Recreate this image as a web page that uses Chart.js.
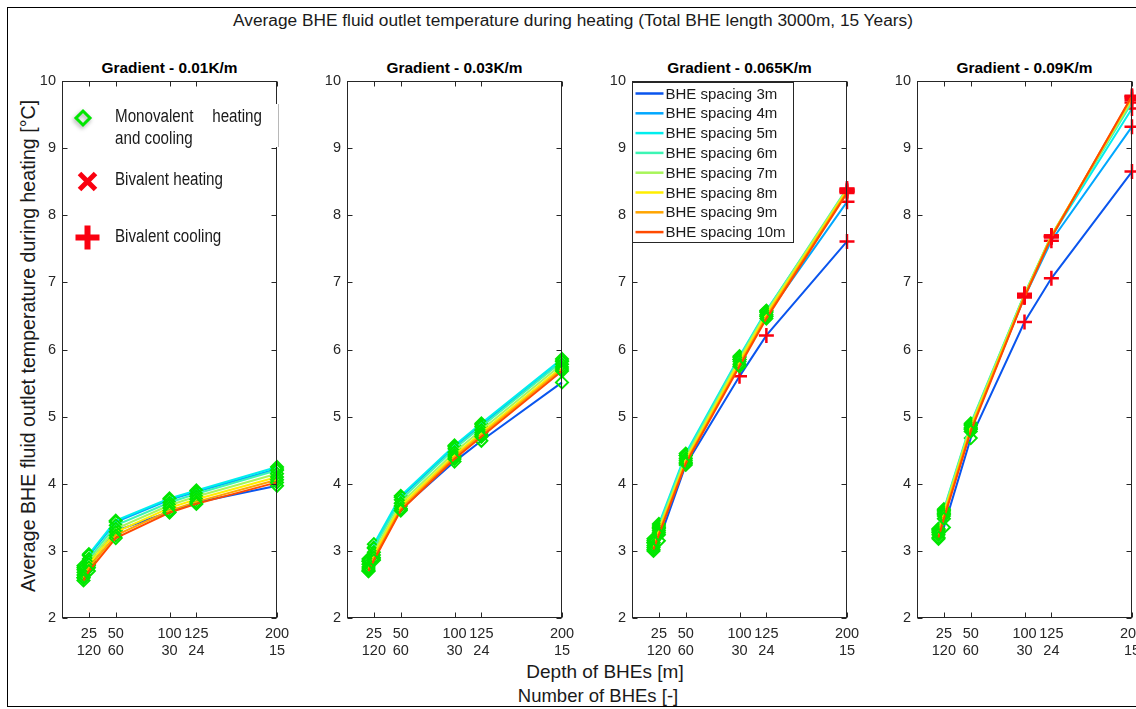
<!DOCTYPE html>
<html>
<head>
<meta charset="utf-8">
<script src="https://cdn.jsdelivr.net/npm/chart.js@4.4.1/dist/chart.umd.min.js"></script>
<style>
  html, body { margin: 0; padding: 0; background: #fff; overflow: hidden; width: 1136px; height: 709px; }
  body { position: relative; font-family: "Liberation Sans", Arial, sans-serif; color: #1a1a1a; }
  .frame { position: absolute; left: 7px; top: 7px; width: 1150px; height: 700px; box-sizing: border-box; border: 1px solid #000; }
  .lbl { position: absolute; white-space: nowrap; transform: translate(-50%, -50%); }
  .sub { font-weight: bold; font-size: 15.4px; color: #000; }
  canvas { position: absolute; }
</style>
</head>
<body>
<div class="frame"></div>
<div class="lbl" style="left:573px; top:20px; font-size:17.3px;">Average BHE fluid outlet temperature during heating (Total BHE length 3000m, 15 Years)</div>
<div class="lbl" style="left:28px; top:346px; font-size:19.6px; transform: translate(-50%, -50%) rotate(-90deg);">Average BHE fluid outlet temperature during heating [°C]</div>
<div class="lbl" style="left:605px; top:672px; font-size:19px;">Depth of BHEs [m]</div>
<div class="lbl" style="left:598px; top:696px; font-size:18.5px;">Number of BHEs [-]</div>
<div id="titles"></div>
<canvas id="c0" width="290" height="607"></canvas>
<canvas id="c1" width="290" height="607"></canvas>
<canvas id="c2" width="290" height="607"></canvas>
<canvas id="c3" width="290" height="607"></canvas>
<script>
// ---- data ----
const depths = [20, 25, 50, 100, 125, 200];          // BHE depth [m] of each simulated layout
const depthTicks = [25, 50, 100, 125, 200];
const countTicks = [120, 60, 30, 24, 15];             // number of BHEs for each labelled depth
const spacingLabels = ['BHE spacing 3m', 'BHE spacing 4m', 'BHE spacing 5m', 'BHE spacing 6m',
                       'BHE spacing 7m', 'BHE spacing 8m', 'BHE spacing 9m', 'BHE spacing 10m'];
const gradientTitles = ['Gradient - 0.01K/m', 'Gradient - 0.03K/m', 'Gradient - 0.065K/m', 'Gradient - 0.09K/m'];

// mean fluid outlet temperature [°C], one row per BHE spacing (3m ... 10m)
const temps001 = [
  [2.60, 2.78, 3.30, 3.58, 3.72, 3.97],
  [2.75, 2.93, 3.43, 3.76, 3.88, 4.22],
  [2.78, 2.95, 3.45, 3.78, 3.90, 4.25],
  [2.72, 2.88, 3.38, 3.72, 3.85, 4.20],
  [2.68, 2.84, 3.33, 3.68, 3.81, 4.15],
  [2.64, 2.80, 3.28, 3.64, 3.77, 4.10],
  [2.60, 2.75, 3.23, 3.60, 3.73, 4.06],
  [2.56, 2.70, 3.19, 3.57, 3.70, 4.02]
];
const temps003 = [
  [2.70, 2.88, 3.62, 4.33, 4.64, 5.51],
  [2.85, 3.05, 3.80, 4.55, 4.88, 5.83],
  [2.88, 3.10, 3.82, 4.57, 4.90, 5.86],
  [2.84, 3.04, 3.76, 4.52, 4.85, 5.82],
  [2.80, 2.98, 3.71, 4.47, 4.80, 5.78],
  [2.76, 2.94, 3.67, 4.43, 4.76, 5.74],
  [2.73, 2.90, 3.63, 4.40, 4.73, 5.71],
  [2.70, 2.86, 3.60, 4.37, 4.70, 5.68]
];
const temps0065 = [
  [3.00, 3.15, 4.28, 5.60, 6.21, 7.61],
  [3.12, 3.35, 4.42, 5.85, 6.50, 8.20],
  [3.18, 3.40, 4.45, 5.90, 6.58, 8.36],
  [3.15, 3.37, 4.42, 5.88, 6.57, 8.40],
  [3.12, 3.33, 4.38, 5.85, 6.55, 8.39],
  [3.08, 3.30, 4.35, 5.82, 6.52, 8.37],
  [3.05, 3.27, 4.32, 5.78, 6.49, 8.35],
  [3.02, 3.24, 4.30, 5.75, 6.46, 8.33]
];
const temps009 = [
  [3.18, 3.35, 4.68, 6.41, 7.06, 8.65],
  [3.28, 3.55, 4.82, 6.78, 7.62, 9.32],
  [3.32, 3.60, 4.88, 6.82, 7.68, 9.59],
  [3.33, 3.62, 4.90, 6.83, 7.70, 9.68],
  [3.30, 3.58, 4.87, 6.82, 7.70, 9.72],
  [3.27, 3.55, 4.84, 6.80, 7.69, 9.75],
  [3.24, 3.52, 4.81, 6.79, 7.68, 9.77],
  [3.20, 3.48, 4.78, 6.78, 7.67, 9.78]
];

// operating mode per point: d = monovalent heating and cooling, + = bivalent cooling, x = bivalent heating
const modes001  = ['dddddd', 'dddddd', 'dddddd', 'dddddd', 'dddddd', 'dddddd', 'dddddd', 'dddddd'];
const modes003  = ['dddddd', 'dddddd', 'dddddd', 'dddddd', 'dddddd', 'dddddd', 'dddddd', 'dddddd'];
const modes0065 = ['ddd+++', 'ddddd+', 'ddddd+', 'ddddd+', 'ddddd+', 'ddddd+', 'ddddd+', 'ddddd+'];
const modes009  = ['ddd+++', 'ddd+++', 'ddd+++', 'ddd+++', 'ddd+++', 'ddd+++', 'ddd+++', 'ddd+++'];

// ---- styling ----
const lineColors = ['#0a55ee', '#00a8ff', '#00eeee', '#3cf5b4', '#a8f55a', '#ffee00', '#ffa500', '#ff4a00'];
const axisColor = '#262626';
const markRed = '#fa0010';
const font = '"Liberation Sans", Arial, sans-serif';
const markerStyle = {
  d: { style: 'rectRot', color: '#00e600', radius: 6, width: 2 },
  '+': { style: 'cross', color: markRed, radius: 7.5, width: 2.5 },
  x: { style: 'crossRot', color: markRed, radius: 7.5, width: 2.5 }
};
const plotLefts = [62, 347, 632, 917];
const plotTop = 81;

// axes box with inward ticks on all four sides
const frameTicks = {
  id: 'frameTicks',
  afterDraw(chart) {
    const { ctx, chartArea: a, scales: { x, y } } = chart;
    const L = Math.round(a.left) + 0.5, R = Math.round(a.right) - 0.5;
    const T = Math.round(a.top) + 0.5, B = Math.round(a.bottom) - 0.5;
    ctx.save();
    ctx.strokeStyle = axisColor;
    ctx.lineWidth = 1;
    ctx.strokeRect(L, T, R - L, B - T);
    ctx.beginPath();
    x.ticks.forEach(t => {
      const px = Math.round(x.getPixelForValue(t.value)) + 0.5;
      ctx.moveTo(px, B); ctx.lineTo(px, B - 5);
      ctx.moveTo(px, T); ctx.lineTo(px, T + 5);
    });
    y.ticks.forEach(t => {
      const py = Math.round(y.getPixelForValue(t.value)) + 0.5;
      ctx.moveTo(L, py); ctx.lineTo(L + 5, py);
      ctx.moveTo(R, py); ctx.lineTo(R - 5, py);
    });
    ctx.stroke();
    ctx.restore();
  }
};

// legend of the spacing lines
const lineKey = {
  id: 'lineKey',
  afterDraw(chart) {
    const { ctx, chartArea: a } = chart;
    const x0 = Math.round(a.left) + 0.5, y0 = Math.round(a.top) + 1.5;
    ctx.save();
    ctx.fillStyle = '#fff';
    ctx.fillRect(x0, y0, 161, 160);
    ctx.strokeStyle = axisColor;
    ctx.lineWidth = 1;
    ctx.strokeRect(x0, y0, 161, 160);
    ctx.font = '15px ' + font;
    ctx.textBaseline = 'middle';
    chart.data.datasets.forEach((ds, i) => {
      const cy = y0 + 11 + i * 19.8;
      ctx.strokeStyle = ds.borderColor;
      ctx.lineWidth = 2.5;
      ctx.beginPath(); ctx.moveTo(x0 + 3, cy); ctx.lineTo(x0 + 31, cy); ctx.stroke();
      ctx.fillStyle = '#1a1a1a';
      ctx.fillText(ds.label, x0 + 33, cy + 1);
    });
    ctx.restore();
  }
};

// legend of the operating-mode markers
const modeKey = {
  id: 'modeKey',
  afterDraw(chart) {
    const { ctx, chartArea: a } = chart;
    const ax = a.left, ay = a.top;
    ctx.save();
    ctx.fillStyle = '#fff';
    ctx.fillRect(ax + 2, ay + 23, 214.5, 43);
    ctx.strokeStyle = '#b8b8b8';
    ctx.lineWidth = 1;
    ctx.beginPath(); ctx.moveTo(ax + 216.5, ay + 23); ctx.lineTo(ax + 216.5, ay + 66); ctx.stroke();

    // hollow green diamond with soft shadow
    ctx.save();
    ctx.shadowColor = 'rgba(0,0,0,0.35)';
    ctx.shadowBlur = 4;
    ctx.shadowOffsetX = -1;
    ctx.shadowOffsetY = 2;
    ctx.strokeStyle = '#00e600';
    ctx.lineWidth = 3;
    const dx = ax + 21, dy = ay + 37;
    ctx.beginPath();
    ctx.moveTo(dx, dy - 7); ctx.lineTo(dx + 7, dy); ctx.lineTo(dx, dy + 7); ctx.lineTo(dx - 7, dy); ctx.closePath();
    ctx.stroke();
    ctx.restore();

    // red X
    ctx.strokeStyle = markRed;
    ctx.lineWidth = 5;
    const xx = ax + 25.5, xy = ay + 100.5;
    ctx.beginPath();
    ctx.moveTo(xx - 8, xy - 8); ctx.lineTo(xx + 8, xy + 8);
    ctx.moveTo(xx + 8, xy - 8); ctx.lineTo(xx - 8, xy + 8);
    ctx.stroke();

    // red plus
    ctx.lineWidth = 6;
    const px = ax + 25.5, py = ay + 156.5;
    ctx.beginPath();
    ctx.moveTo(px - 12, py); ctx.lineTo(px + 12, py);
    ctx.moveTo(px, py - 12); ctx.lineTo(px, py + 12);
    ctx.stroke();

    // condensed labels
    ctx.fillStyle = '#1a1a1a';
    ctx.font = '18px ' + font;
    ctx.textBaseline = 'middle';
    const sx = 108 / ctx.measureText('Bivalent heating').width;
    const put = (txt, x, y, align) => {
      ctx.save();
      ctx.translate(x, y);
      ctx.scale(sx, 1);
      ctx.textAlign = align;
      ctx.fillText(txt, 0, 0);
      ctx.restore();
    };
    put('Monovalent', ax + 53, ay + 36, 'left');
    put('heating', ax + 200, ay + 36, 'right');
    put('and cooling', ax + 53, ay + 58, 'left');
    put('Bivalent heating', ax + 53, ay + 99, 'left');
    put('Bivalent cooling', ax + 53, ay + 156, 'left');
    ctx.restore();
  }
};

function buildChart(idx, temps, modes, extra) {
  const canvas = document.getElementById('c' + idx);
  canvas.style.left = (plotLefts[idx] - 50) + 'px';
  canvas.style.top = (plotTop - 20) + 'px';

  const t = document.createElement('div');
  t.className = 'lbl sub';
  t.style.left = (plotLefts[idx] + 107.5) + 'px';
  t.style.top = '68px';
  t.textContent = gradientTitles[idx];
  document.getElementById('titles').appendChild(t);

  const datasets = temps.map((row, i) => {
    const m = modes[i].split('').map(k => markerStyle[k]);
    return {
      label: spacingLabels[i],
      data: row.map((v, j) => ({ x: depths[j], y: v })),
      borderColor: lineColors[i],
      borderWidth: 2,
      tension: 0,
      clip: false,
      order: 100 - i,
      pointStyle: m.map(s => s.style),
      pointRadius: m.map(s => s.radius),
      pointHoverRadius: m.map(s => s.radius),
      pointBorderColor: m.map(s => s.color),
      pointBorderWidth: m.map(s => s.width),
      pointBackgroundColor: 'rgba(0,0,0,0)'
    };
  });

  return new Chart(canvas, {
    type: 'line',
    data: { datasets },
    plugins: [frameTicks].concat(extra),
    options: {
      responsive: false,
      animation: false,
      devicePixelRatio: 1,
      events: [],
      layout: { padding: { left: 10, top: 20, right: 25, bottom: 5 } },
      plugins: { legend: { display: false }, tooltip: { enabled: false }, title: { display: false } },
      scales: {
        x: {
          type: 'linear', min: 0, max: 200,
          afterBuildTicks: s => { s.ticks = depthTicks.map(v => ({ value: v })); },
          afterFit: s => { s.height = 45; },
          grid: { display: false, drawTicks: false },
          border: { display: false },
          ticks: {
            autoSkip: false, maxRotation: 0, padding: 7,
            color: axisColor, font: { family: font, size: 14.5 },
            callback: v => [String(v), String(countTicks[depthTicks.indexOf(v)])]
          }
        },
        y: {
          min: 2, max: 10,
          afterFit: s => { s.width = 40; },
          grid: { display: false, drawTicks: false },
          border: { display: false },
          ticks: { stepSize: 1, padding: 6, color: axisColor, font: { family: font, size: 14.5 } }
        }
      }
    }
  });
}

buildChart(0, temps001, modes001, [modeKey]);
buildChart(1, temps003, modes003, []);
buildChart(2, temps0065, modes0065, [lineKey]);
buildChart(3, temps009, modes009, []);
</script>
</body>
</html>
